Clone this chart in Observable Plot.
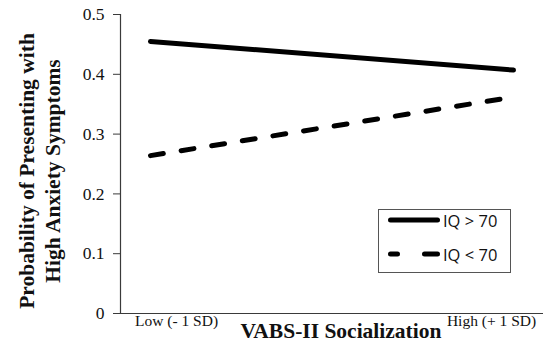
<!DOCTYPE html>
<html>
<head>
<meta charset="utf-8">
<script src="https://cdn.jsdelivr.net/npm/d3@7"></script>
<script src="https://cdn.jsdelivr.net/npm/@observablehq/plot@0.6"></script>
<style>
  html, body { margin: 0; padding: 0; background: #fff; }
  #wrap { position: relative; width: 543px; height: 358px; }
  #legend { position: absolute; left: 378px; top: 209px; }
  #wrap svg.main text { font-family: 'Liberation Serif', 'Times New Roman', serif !important; }
</style>
</head>
<body>
<div id="wrap"></div>
<script>
// ---- data ----
const xCats = ["Low", "High"];
const xTickLabels = ["Low (- 1 SD)", "High (+ 1 SD)"];
const seriesNames = ["IQ > 70", "IQ < 70"];
const iqAbove70 = [0.455, 0.407];
const iqBelow70 = [0.264, 0.362];
const yTicks = [0, 0.1, 0.2, 0.3, 0.4, 0.5];
const xTitle = "VABS-II Socialization";
const yTitle = "Probability of Presenting with\nHigh Anxiety Symptoms";

const rows = [
  ...xCats.map((c, i) => ({cat: c, value: iqAbove70[i], series: seriesNames[0]})),
  ...xCats.map((c, i) => ({cat: c, value: iqBelow70[i], series: seriesNames[1]}))
];

const serif = "'Liberation Serif', 'Times New Roman', serif";
const axisColor = "#3a3a3a";

const chart = Plot.plot({
  width: 543,
  height: 358,
  marginLeft: 120,
  marginRight: 0,
  marginTop: 14,
  marginBottom: 45,
  className: "main",
  style: {background: "#fff", overflow: "visible", fontFamily: serif},
  x: {type: "point", domain: xCats, padding: 0.082, axis: null},
  y: {domain: [0, 0.5], axis: null},
  marks: [
    Plot.axisY({
      ticks: yTicks, tickSize: 7, tickPadding: 9, label: null,
      tickFormat: d => String(d),
      fontSize: 17.5, color: "#111", stroke: axisColor
    }),
    Plot.frame({anchor: "left", stroke: axisColor, strokeWidth: 1.2}),
    Plot.ruleY([0], {stroke: axisColor, strokeWidth: 1.2}),
    Plot.line(rows.filter(d => d.series === seriesNames[0]), {
      x: "cat", y: "value", stroke: "#000", strokeWidth: 5, strokeLinecap: "round"
    }),
    Plot.line(rows.filter(d => d.series === seriesNames[1]), {
      x: "cat", y: "value", stroke: "#000", strokeWidth: 5, strokeLinecap: "round",
      strokeDasharray: "13,18"
    }),
    Plot.text([xCats[0]], {
      x: d => d, text: [xTickLabels[0]], frameAnchor: "bottom", lineAnchor: "top",
      dx: 26, dy: 1, fontSize: 15.5, fill: "#111"
    }),
    Plot.text([xCats[1]], {
      x: d => d, text: [xTickLabels[1]], frameAnchor: "bottom", lineAnchor: "top",
      dx: -22, dy: 1, fontSize: 15.5, fill: "#111"
    }),
    Plot.text([xTitle], {
      frameAnchor: "bottom", lineAnchor: "middle", dx: 9, dy: 17.5,
      fontSize: 21.5, fontWeight: "bold", fill: "#111"
    }),
    Plot.text([yTitle], {
      frameAnchor: "left", rotate: -90, textAnchor: "middle", lineAnchor: "middle", lineHeight: 1.24,
      dx: -82, dy: 7,
      fontSize: 21.5, fontWeight: "bold", fill: "#111"
    })
  ]
});

chart.classList.add("main");
d3.select(chart).selectAll("text").style("font-family", serif);

const wrap = document.getElementById("wrap");
wrap.appendChild(chart);

// ---- legend (added over the plot area) ----
const leg = d3.create("svg").attr("id", "legend").attr("width", 134).attr("height", 65);
leg.append("rect").attr("x", 0.5).attr("y", 0.5).attr("width", 132).attr("height", 63)
  .attr("fill", "#fff").attr("stroke", "#555").attr("stroke-width", 1);
const items = [
  {name: seriesNames[0], dash: null, y: 11},
  {name: seriesNames[1], dash: "7,27,13,200", y: 45}
];
items.forEach(it => {
  const l = leg.append("line").attr("x1", 12.5).attr("x2", 59.5)
    .attr("y1", it.y).attr("y2", it.y)
    .attr("stroke", "#000").attr("stroke-width", 5).attr("stroke-linecap", "round");
  if (it.dash) l.attr("stroke-dasharray", it.dash);
  leg.append("text").attr("x", 65).attr("y", it.y + 3).attr("dominant-baseline", "middle")
    .attr("font-family", "'Open Sans', sans-serif").attr("font-size", 16.5).attr("fill", "#111")
    .text(it.name);
});
wrap.appendChild(leg.node());
</script>
</body>
</html>
